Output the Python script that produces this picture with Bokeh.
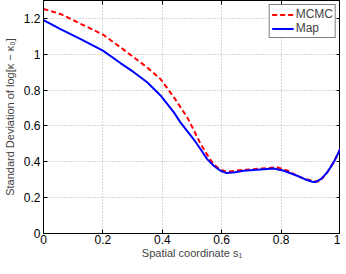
from bokeh.plotting import figure
from bokeh.models import (FixedTicker, LinearAxis, Range1d, Legend, LegendItem,
                          CustomJSTickFormatter)
from bokeh.embed import file_html
from bokeh.resources import INLINE

# ---- data ----
s_map = [0.0, 0.057, 0.125, 0.2, 0.259, 0.304, 0.349, 0.394, 0.439, 0.461, 0.505, 0.529,
         0.551, 0.575, 0.596, 0.617, 0.645, 0.673, 0.72, 0.775, 0.809, 0.854, 0.88, 0.905,
         0.916, 0.935, 0.955, 0.977, 1.0]
sd_map = [1.19, 1.14, 1.085, 1.02, 0.951, 0.9, 0.844, 0.77, 0.676, 0.62, 0.527, 0.47,
          0.415, 0.375, 0.35, 0.337, 0.342, 0.35, 0.356, 0.363, 0.35, 0.322, 0.303, 0.289,
          0.287, 0.305, 0.34, 0.397, 0.475]

s_mcmc = [0.0, 0.057, 0.125, 0.2, 0.259, 0.304, 0.349, 0.394, 0.439, 0.484, 0.505, 0.529,
          0.551, 0.573, 0.596, 0.617, 0.645, 0.673, 0.73, 0.787, 0.82, 0.854, 0.88, 0.91,
          0.93, 0.955, 0.977, 1.0]
sd_mcmc = [1.253, 1.225, 1.17, 1.11, 1.039, 0.983, 0.927, 0.862, 0.76, 0.648, 0.58, 0.5,
           0.44, 0.385, 0.355, 0.345, 0.35, 0.355, 0.362, 0.369, 0.352, 0.322, 0.305, 0.292,
           0.29, 0.34, 0.397, 0.475]

x_ticks = [0, 0.2, 0.4, 0.6, 0.8, 1.0]
y_ticks = [0, 0.2, 0.4, 0.6, 0.8, 1.0, 1.2]

FONT = "Liberation Sans"
FS = "12px"
LFS = "11px"

p = figure(frame_width=297, frame_height=233, output_backend="svg", toolbar_location=None,
           x_range=Range1d(0, 1), y_range=Range1d(0, 1.3),
           min_border_left=40, min_border_right=0, min_border_top=0, min_border_bottom=30,
           background_fill_color="white", border_fill_color="white")
p.outline_line_color = "black"
p.outline_line_width = 1

fmt = CustomJSTickFormatter(code="var s = tick.toFixed(1); return s.replace(/\\.0$/, '');")
blank = CustomJSTickFormatter(code="return '';")

for ax in (p.xaxis[0], p.yaxis[0]):
    ax.major_tick_in = 4
    ax.major_tick_out = 0
    ax.minor_tick_line_color = None
    ax.major_label_text_font = FONT
    ax.major_label_text_font_size = FS
    ax.axis_label_text_font = FONT
    ax.axis_label_text_font_size = LFS
    ax.axis_label_text_font_style = "normal"
    ax.major_label_text_color = "black"
    ax.axis_line_color = "black"
    ax.formatter = fmt

p.xaxis[0].ticker = FixedTicker(ticks=x_ticks)
p.yaxis[0].ticker = FixedTicker(ticks=y_ticks)
p.xaxis[0].axis_label = "Spatial coordinate s\u2081"
p.yaxis[0].axis_label = "Standard Deviation of log[\u03ba \u2212 \u03ba\u2080]"
p.xaxis[0].major_label_standoff = 1
p.yaxis[0].major_label_standoff = 3
p.xaxis[0].axis_label_standoff = 0
p.yaxis[0].axis_label_standoff = 5

top = LinearAxis(ticker=FixedTicker(ticks=x_ticks), formatter=blank,
                 major_tick_in=4, major_tick_out=0, minor_tick_line_color=None,
                 major_label_standoff=0)
right = LinearAxis(ticker=FixedTicker(ticks=y_ticks), formatter=blank,
                   major_tick_in=4, major_tick_out=0, minor_tick_line_color=None,
                   major_label_standoff=0)
p.add_layout(top, "above")
p.add_layout(right, "right")

p.xgrid.ticker = FixedTicker(ticks=x_ticks)
p.ygrid.ticker = FixedTicker(ticks=y_ticks)
for g in (p.xgrid[0], p.ygrid[0]):
    g.grid_line_color = "#b0b0b0"
    g.grid_line_dash = "1 2"
    g.grid_line_width = 1

r_mcmc = p.line(s_mcmc, sd_mcmc, line_color="#ff0000", line_width=2, line_dash="5 3")
r_map = p.line(s_map, sd_map, line_color="#0000ff", line_width=2)

legend = Legend(items=[LegendItem(label="MCMC", renderers=[r_mcmc]),
                       LegendItem(label="Map", renderers=[r_map])],
                location="top_right")
legend.label_text_font = FONT
legend.label_text_font_size = FS
legend.border_line_color = "black"
legend.border_line_width = 1
legend.margin = 4
legend.padding = 2
legend.spacing = 0
legend.glyph_width = 22
legend.glyph_height = 13
legend.label_height = 13
legend.label_standoff = 2
legend.background_fill_alpha = 1
p.add_layout(legend)

open("out.html", "w").write(file_html(p, INLINE))
